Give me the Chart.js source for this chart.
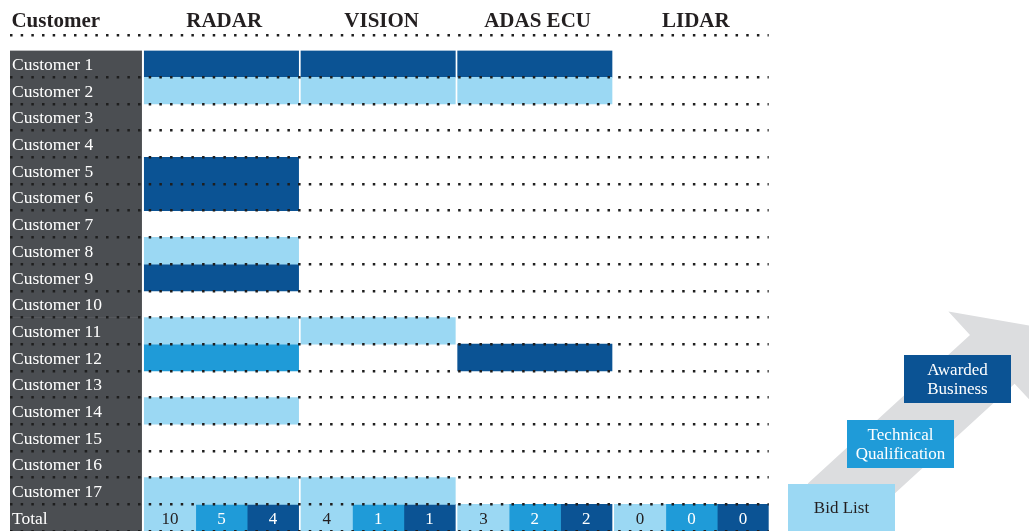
<!DOCTYPE html>
<html>
<head>
<meta charset="utf-8">
<title>Customer pipeline</title>
<script src="https://cdn.jsdelivr.net/npm/chart.js@4.4.0/dist/chart.umd.min.js"></script>
<style>
  html, body { margin: 0; padding: 0; background: #fff; }
  canvas { display: block; }
</style>
</head>
<body>
<canvas id="mycanvas" width="1029" height="531"></canvas>
<script>
var customers = ['Customer 1', 'Customer 2', 'Customer 3', 'Customer 4', 'Customer 5', 'Customer 6',
  'Customer 7', 'Customer 8', 'Customer 9', 'Customer 10', 'Customer 11', 'Customer 12',
  'Customer 13', 'Customer 14', 'Customer 15', 'Customer 16', 'Customer 17'];
var products = ['RADAR', 'VISION', 'ADAS ECU', 'LIDAR'];
var stages = ['Bid List', 'Technical Qualification', 'Awarded Business'];

// stage reached per customer: 0 = none, 1 = bid list, 2 = technical qualification, 3 = awarded
var radar   = [3, 1, 0, 0, 3, 3, 0, 1, 3, 0, 1, 2, 0, 1, 0, 0, 1];
var vision  = [3, 1, 0, 0, 0, 0, 0, 0, 0, 0, 1, 0, 0, 0, 0, 0, 1];
var adasEcu = [3, 1, 0, 0, 0, 0, 0, 0, 0, 0, 0, 3, 0, 0, 0, 0, 0];
var lidar   = [0, 0, 0, 0, 0, 0, 0, 0, 0, 0, 0, 0, 0, 0, 0, 0, 0];

// totals row, one value per product
var totalBid       = [10, 4, 3, 0];
var totalTechnical = [5, 1, 2, 0];
var totalAwarded   = [4, 1, 2, 0];

var stageColors = ['#9bd8f3', '#1f9bd8', '#0b5394'];
var stageText = ['#231f20', '#ffffff', '#ffffff'];
var labelGray = '#4b4e52';
var dotColor = '#1e1e1e';
var dotDash = [2.5, 8.17];
var serif = "'Liberation Serif', 'Times New Roman', serif";

var rows = customers.concat(['Total']);
var productStages = [radar, vision, adasEcu, lidar];
var totals = [totalBid, totalTechnical, totalAwarded];
var headers = ['Customer'].concat(products);
var headerPos = [-0.565, 0.51, 1.515, 2.51, 3.52];
var colWidth = 0.985;
var xMin = -0.857, xMax = 3.985;

var datasets = [];
// grey label column behind the customer names
datasets.push({
  label: 'Customer',
  data: rows.map(function() { return [xMin, -0.017]; }),
  backgroundColor: labelGray
});
for (var p = 0; p < products.length; p++) {
  for (var s = 0; s < stages.length; s++) {
    var data = productStages[p].map(function(v) {
      return v === s + 1 ? [p, p + colWidth] : null;
    });
    // total row is split in three, one part per stage
    data.push([p + s * colWidth / 3, p + (s + 1) * colWidth / 3]);
    datasets.push({
      label: products[p] + ' - ' + stages[s],
      data: data,
      backgroundColor: stageColors[s],
      product: p,
      stage: s
    });
  }
}

function dottedLine(ctx, x1, y, x2) {
  ctx.save();
  ctx.strokeStyle = dotColor;
  ctx.lineWidth = 2.5;
  ctx.setLineDash(dotDash);
  ctx.beginPath();
  ctx.moveTo(x1, y);
  ctx.lineTo(x2, y);
  ctx.stroke();
  ctx.restore();
}

function drawArrow(ctx) {
  var cx = 992.3, cy = 359.3, ang = 42.5 * Math.PI / 180;
  var ux = Math.cos(ang), uy = -Math.sin(ang), nx = Math.sin(ang), ny = Math.cos(ang);
  var pts = [[-220, -33], [0, -33], [0, -65], [50, 0], [0, 65], [0, 33], [-220, 33]];
  ctx.save();
  ctx.fillStyle = '#dcdddf';
  ctx.beginPath();
  pts.forEach(function(pt, i) {
    var x = cx + pt[0] * ux + pt[1] * nx;
    var y = cy + pt[0] * uy + pt[1] * ny;
    if (i === 0) ctx.moveTo(x, y); else ctx.lineTo(x, y);
  });
  ctx.closePath();
  ctx.fill();
  ctx.restore();
}

var legendBoxes = [
  {x: 788, y: 484, w: 107, h: 47},
  {x: 847, y: 420, w: 107, h: 48},
  {x: 904, y: 355, w: 107, h: 48}
];

var decorations = {
  id: 'decorations',
  afterDraw: function(chart) {
    var ctx = chart.ctx, area = chart.chartArea;

    // rule under the header
    dottedLine(ctx, area.left, area.top - 15.3, area.right);

    // numbers in the total row
    ctx.save();
    ctx.font = '17px ' + serif;
    ctx.textAlign = 'center';
    ctx.textBaseline = 'middle';
    chart.data.datasets.forEach(function(ds, i) {
      if (ds.stage === undefined) return;
      var bar = chart.getDatasetMeta(i).data[rows.length - 1];
      ctx.fillStyle = stageText[ds.stage];
      ctx.fillText(String(totals[ds.stage][ds.product]), (bar.x + bar.base) / 2, bar.y + 2);
    });
    ctx.restore();

    // stage legend on the grey arrow
    drawArrow(ctx);
    ctx.save();
    ctx.font = '17px ' + serif;
    ctx.textAlign = 'center';
    ctx.textBaseline = 'middle';
    stages.forEach(function(name, s) {
      var b = legendBoxes[s];
      ctx.fillStyle = stageColors[s];
      ctx.fillRect(b.x, b.y, b.w, b.h);
      var lines = ctx.measureText(name).width > b.w - 12 ? name.split(' ') : [name];
      ctx.fillStyle = stageText[s];
      var cy = b.y + b.h / 2 + 1.5 - (lines.length - 1) * 9.5;
      lines.forEach(function(line, k) {
        ctx.fillText(line, b.x + b.w / 2, cy + k * 19);
      });
    });
    ctx.restore();
  }
};

var ctx = document.getElementById('mycanvas');

var grid = new Chart(ctx, {
  type: 'bar',
  data: {
    labels: rows,
    datasets: datasets
  },
  options: {
    indexAxis: 'y',
    responsive: false,
    animation: false,
    events: [],
    layout: { padding: { left: 8, right: 260.3, top: 0, bottom: 0 } },
    datasets: {
      bar: { grouped: false, barPercentage: 1, categoryPercentage: 1, borderWidth: 0 }
    },
    plugins: {
      legend: { display: false },
      tooltip: { enabled: false }
    },
    scales: {
      x: {
        type: 'linear',
        position: 'top',
        min: xMin,
        max: xMax,
        afterBuildTicks: function(axis) {
          axis.ticks = headerPos.map(function(v) { return {value: v}; });
        },
        afterFit: function(axis) {
          axis.height = 50.6;
          axis.paddingLeft = 0;
          axis.paddingRight = 0;
        },
        grid: { display: false },
        border: { display: false },
        ticks: {
          autoSkip: false,
          maxRotation: 0,
          padding: 8,
          color: '#231f20',
          font: { family: serif, size: 21, weight: 'bold' },
          callback: function(value, index) { return headers[index]; }
        }
      },
      y: {
        type: 'category',
        offset: true,
        afterFit: function(axis) {
          axis.width = 2;
          axis.paddingTop = 0;
          axis.paddingBottom = 0;
        },
        border: { display: false, dash: dotDash },
        grid: {
          offset: true,
          drawTicks: false,
          z: 1,
          lineWidth: 2.5,
          color: function(c) { return c.index === 0 ? 'rgba(0,0,0,0)' : dotColor; }
        },
        ticks: {
          mirror: true,
          padding: 2,
          labelOffset: 1.5,
          z: 1,
          color: '#ffffff',
          font: { family: serif, size: 17.5 }
        }
      }
    }
  },
  plugins: [decorations]
});
</script>
</body>
</html>
